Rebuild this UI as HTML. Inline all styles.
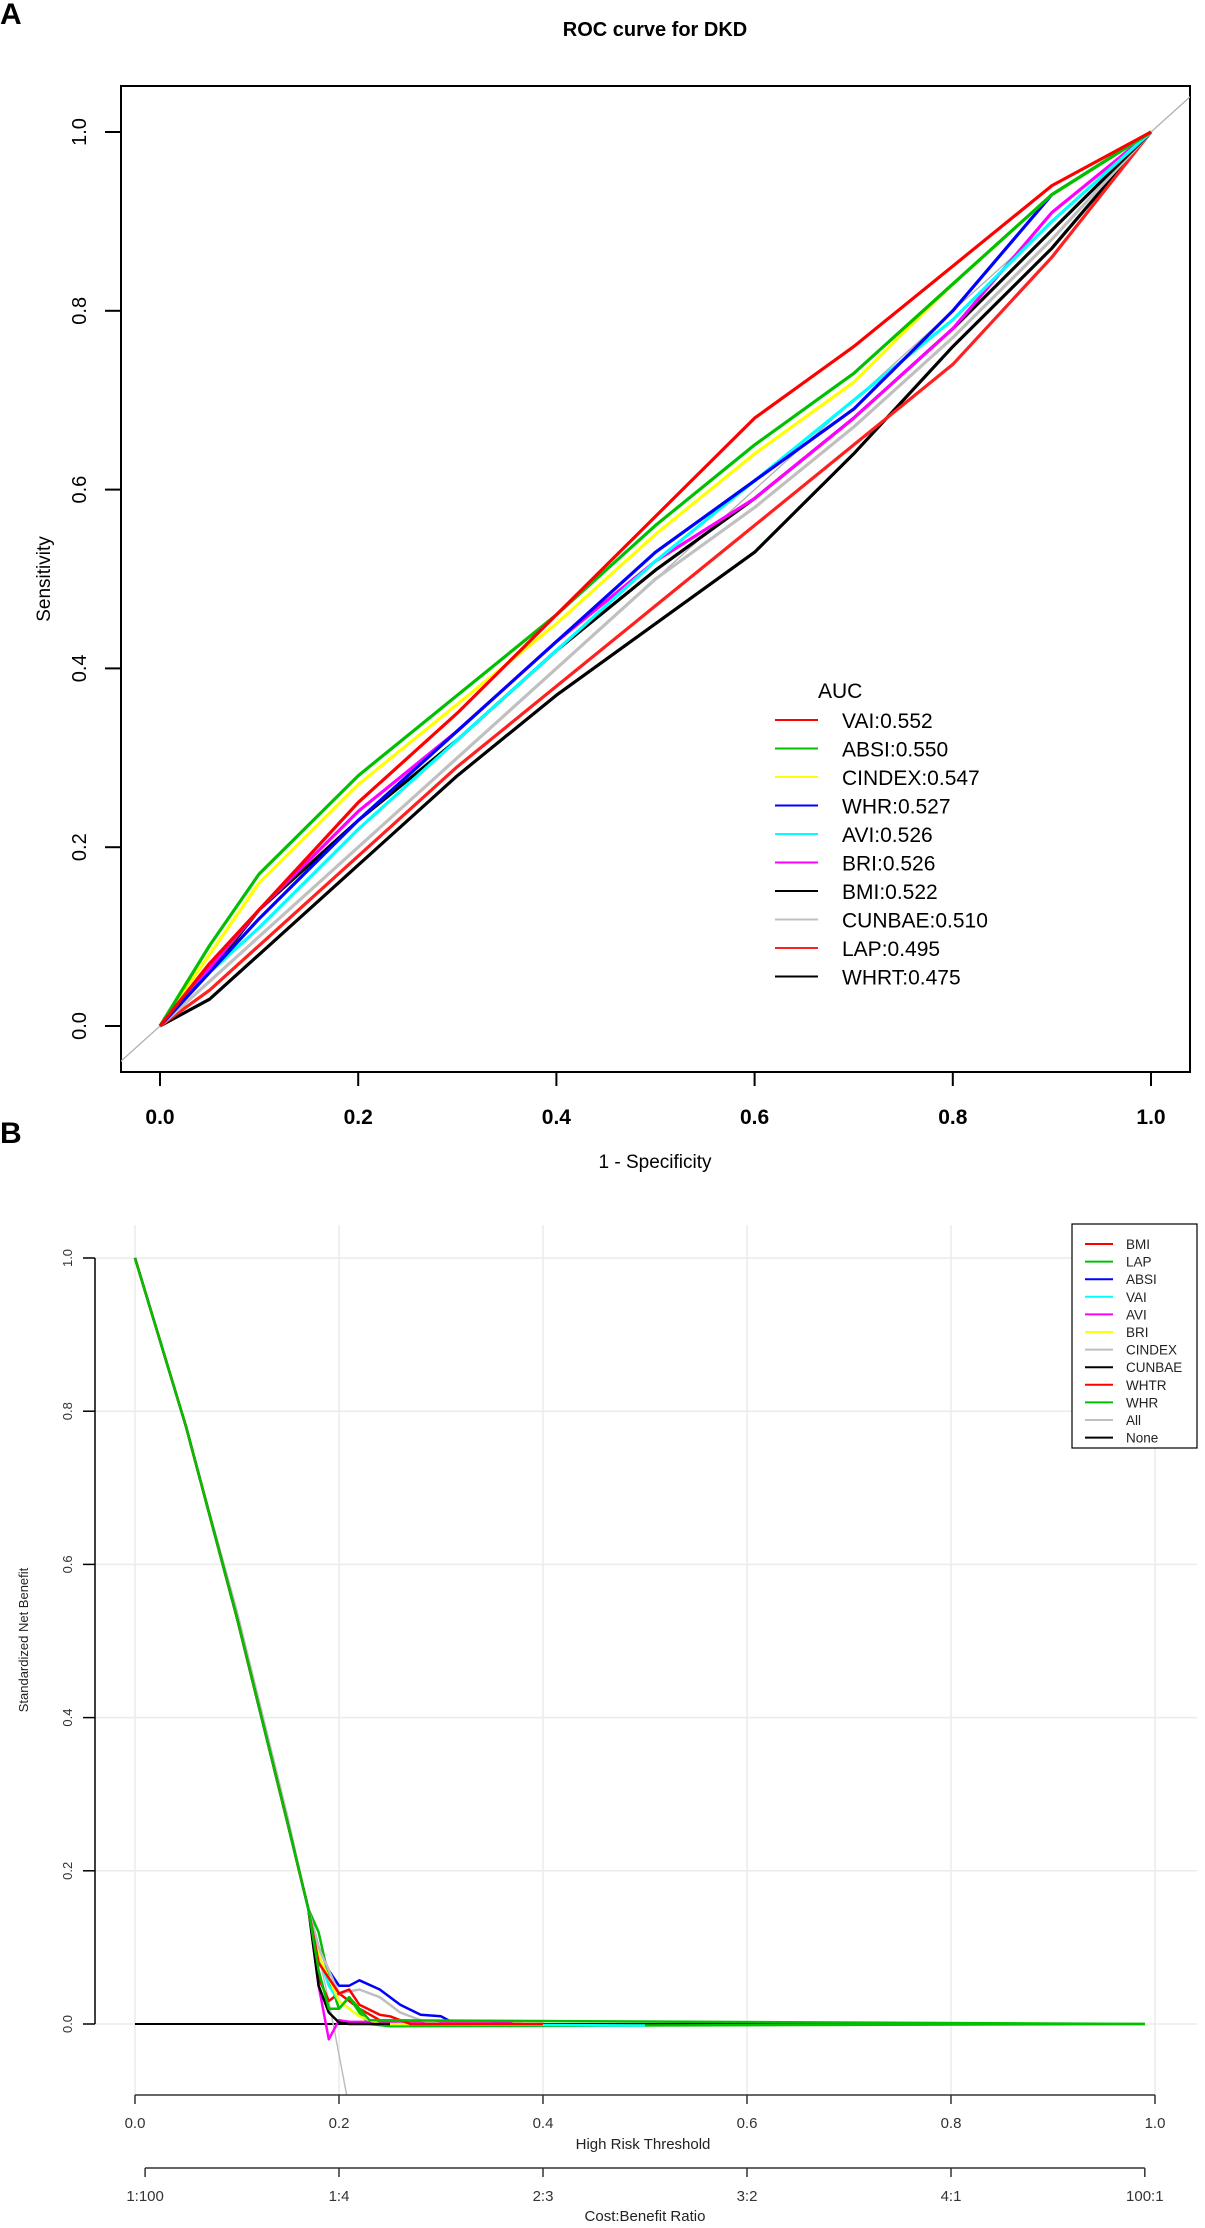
<!DOCTYPE html>
<html><head><meta charset="utf-8">
<style>
html,body{margin:0;padding:0;background:#fff;}
svg{display:block;font-family:"Liberation Sans",Arial,sans-serif;}
</style></head>
<body>
<svg id="fig" width="1205" height="2228" viewBox="0 0 1205 2228" xmlns="http://www.w3.org/2000/svg">
<defs>
<clipPath id="clipA"><rect x="121" y="86" width="1069" height="986"/></clipPath>
<clipPath id="clipB"><rect x="95" y="1220" width="1105" height="875"/></clipPath>
</defs>
<text x="0" y="24" font-size="30" font-weight="bold">A</text>
<text x="655" y="36" font-size="20" font-weight="bold" text-anchor="middle">ROC curve for DKD</text>
<rect x="121" y="86" width="1069" height="986" fill="none" stroke="#000" stroke-width="2"/>
<g id="rocAxes"></g>
<g id="rocLines" clip-path="url(#clipA)"></g>
<g id="rocLegend"></g>
<text transform="translate(50,579) rotate(-90)" font-size="19" text-anchor="middle">Sensitivity</text>
<text x="655" y="1168" font-size="19" text-anchor="middle">1 - Specificity</text>

<text x="0" y="1143" font-size="30" font-weight="bold">B</text>
<g id="dcaGrid"></g>
<g id="dcaLines" clip-path="url(#clipB)"></g>
<g id="dcaAxes"></g>
<g id="dcaLegend"></g>
<text transform="translate(28,1640) rotate(-90)" font-size="13" fill="#222" text-anchor="middle">Standardized Net Benefit</text>
<text x="643" y="2149" font-size="15" fill="#222" text-anchor="middle">High Risk Threshold</text>
<text x="645" y="2221" font-size="15" fill="#222" text-anchor="middle">Cost:Benefit Ratio</text>
</svg>
<script>
// ---------- ROC data ----------
const rocNames = ["VAI","ABSI","CINDEX","WHR","AVI","BRI","BMI","CUNBAE","LAP","WHRT"];
const rocAUC = ["0.552","0.550","0.547","0.527","0.526","0.526","0.522","0.510","0.495","0.475"];
const rocColors = ["#ff0000","#00c000","#ffff00","#0000ff","#00ffff","#ff00ff","#000000","#c0c0c0","#ff2020","#000000"];
const rocFpr = [0,0.05,0.1,0.2,0.3,0.4,0.5,0.6,0.7,0.8,0.9,1];
const rocVAI    = [0,0.07,0.13,0.25,0.35,0.46,0.57,0.68,0.76,0.85,0.94,1];
const rocABSI   = [0,0.09,0.17,0.28,0.37,0.46,0.56,0.65,0.73,0.83,0.93,1];
const rocCINDEX = [0,0.08,0.16,0.27,0.36,0.45,0.55,0.64,0.72,0.83,0.93,1];
const rocWHR    = [0,0.06,0.12,0.23,0.33,0.43,0.53,0.61,0.69,0.80,0.93,1];
const rocAVI    = [0,0.06,0.11,0.22,0.32,0.42,0.52,0.61,0.70,0.79,0.90,1];
const rocBRI    = [0,0.065,0.13,0.24,0.33,0.43,0.52,0.59,0.68,0.78,0.91,1];
const rocBMI    = [0,0.06,0.13,0.23,0.32,0.42,0.51,0.59,0.68,0.78,0.89,1];
const rocCUNBAE = [0,0.05,0.10,0.20,0.30,0.40,0.50,0.58,0.67,0.77,0.88,1];
const rocLAP    = [0,0.04,0.09,0.19,0.29,0.38,0.47,0.56,0.65,0.74,0.86,1];
const rocWHRT   = [0,0.03,0.08,0.18,0.28,0.37,0.45,0.53,0.64,0.76,0.87,1];
const rocTicks = [0,0.2,0.4,0.6,0.8,1.0];
const rocTickLabels = ["0.0","0.2","0.4","0.6","0.8","1.0"];

// ---------- DCA data ----------
const dcaNames = ["BMI","LAP","ABSI","VAI","AVI","BRI","CINDEX","CUNBAE","WHTR","WHR","All","None"];
const dcaColors = ["#ff0000","#00c000","#0000ff","#00ffff","#ff00ff","#ffff00","#bebebe","#000000","#ff0000","#00c000","#bebebe","#000000"];
const dcaHead = [0,0.05,0.1,0.15,0.17];
const dcaHeadVal = [1.0,0.78,0.53,0.26,0.15];
const dcaT_BMI = [0.18,0.19,0.2,0.21,0.22,0.24,0.27,0.38];
const dcaV_BMI = [0.06,0.03,0.04,0.03,0.02,0.005,0,0];
const dcaT_LAP = [0.18,0.19,0.2,0.21,0.22,0.23,0.25,0.99];
const dcaV_LAP = [0.12,0.06,0.02,0.035,0.015,0,-0.003,0];
const dcaT_ABSI = [0.18,0.19,0.2,0.21,0.22,0.24,0.26,0.28,0.3,0.31,0.33];
const dcaV_ABSI = [0.1,0.07,0.05,0.05,0.057,0.045,0.025,0.012,0.01,0.003,0];
const dcaT_VAI = [0.18,0.19,0.2,0.22,0.24,0.5];
const dcaV_VAI = [0.09,0.05,0.03,0.01,0,-0.002];
const dcaT_AVI = [0.18,0.19,0.2,0.21,0.37];
const dcaV_AVI = [0.05,-0.02,0.005,0.003,0.002];
const dcaT_BRI = [0.18,0.2,0.22,0.24,0.35];
const dcaV_BRI = [0.09,0.03,0.01,0,0];
const dcaT_CINDEX = [0.18,0.2,0.22,0.24,0.26,0.28,0.3];
const dcaV_CINDEX = [0.1,0.04,0.045,0.035,0.015,0.005,0];
const dcaT_CUNBAE = [0.18,0.19,0.2,0.21,0.25];
const dcaV_CUNBAE = [0.05,0.015,0.002,0,0];
const dcaT_WHTR = [0.18,0.2,0.21,0.22,0.24,0.25,0.27,0.4];
const dcaV_WHTR = [0.08,0.04,0.045,0.025,0.012,0.01,0,0];
const dcaT_WHR = [0.18,0.19,0.2,0.21,0.23,0.99];
const dcaV_WHR = [0.07,0.02,0.02,0.035,0.005,0];
const dcaT_All = [0,0.05,0.1,0.15,0.19,0.21];
const dcaV_All = [1.0,0.78,0.54,0.27,0.03,-0.11];
const dcaT_None = [0,0.99];
const dcaV_None = [0,0];
const dcaYTicks = [0,0.2,0.4,0.6,0.8,1.0];
const dcaYLabels = ["0.0","0.2","0.4","0.6","0.8","1.0"];
const dcaXTicks = [0,0.2,0.4,0.6,0.8,1.0];
const dcaXLabels = ["0.0","0.2","0.4","0.6","0.8","1.0"];
const cbTicks = [0.0099,0.2,0.4,0.6,0.8,0.99];
const cbLabels = ["1:100","1:4","2:3","3:2","4:1","100:1"];

const NS="http://www.w3.org/2000/svg";
function mk(tag,attrs,parent){const e=document.createElementNS(NS,tag);for(const k in attrs)e.setAttribute(k,attrs[k]);parent.appendChild(e);return e;}

// ROC scales
const ax=v=>160+991*v, ay=v=>1026-894*v;
const rocAx=document.getElementById('rocAxes');
rocTicks.forEach((t,i)=>{
  let l=mk('line',{x1:ax(t),x2:ax(t),y1:1072,y2:1086,stroke:'#000','stroke-width':2},rocAx);
  
  
  let tx=mk('text',{x:ax(t),y:1124,'font-size':21,'font-weight':'bold','text-anchor':'middle'},rocAx);
  tx.textContent=rocTickLabels[i];
  
  
  let l2=mk('line',{x1:105,x2:121,y1:ay(t),y2:ay(t),stroke:'#000','stroke-width':2},rocAx);
  
  
  let ty=mk('text',{transform:`translate(86,${ay(t)}) rotate(-90)`,'font-size':20,'text-anchor':'middle'},rocAx);
  ty.textContent=rocTickLabels[i];
  
  
});
const rl=document.getElementById('rocLines');
let dg=mk('line',{x1:ax(-0.1),y1:ay(-0.1),x2:ax(1.1),y2:ay(1.1),stroke:'#b0b0b0','stroke-width':1.3},rl);


const rocSeries=[rocVAI,rocABSI,rocCINDEX,rocWHR,rocAVI,rocBRI,rocBMI,rocCUNBAE,rocLAP,rocWHRT];
for(let s=rocSeries.length-1;s>=0;s--){
  const pts=rocFpr.map((f,i)=>ax(f).toFixed(1)+','+ay(rocSeries[s][i]).toFixed(1)).join(' ');
  let p=mk('polyline',{points:pts,fill:'none',stroke:rocColors[s],'stroke-width':3.2,'stroke-linejoin':'round'},rl);
  
  
}
const rlg=document.getElementById('rocLegend');
let ah=mk('text',{x:818,y:698,'font-size':21},rlg);ah.textContent='AUC';


rocNames.forEach((n,i)=>{
  const y=720+i*28.5;
  let g=mk('g',{},rlg);
  
  
  mk('line',{x1:775,x2:818,y1:y,y2:y,stroke:rocColors[i],'stroke-width':2},g);
  let t=mk('text',{x:842,y:y+8,'font-size':21},g);t.textContent=n+':'+rocAUC[i];
});

// DCA scales
const bx=v=>135+1020*v, by=v=>2024-766*v;
const gr=document.getElementById('dcaGrid');
dcaXTicks.forEach(t=>{let l=mk('line',{x1:bx(t),x2:bx(t),y1:1225,y2:2095,stroke:'#ebebeb','stroke-width':1.5},gr);
  
  });
dcaYTicks.forEach(t=>{let l=mk('line',{x1:95,x2:1197,y1:by(t),y2:by(t),stroke:'#ebebeb','stroke-width':1.5},gr);
  
  });
const dl=document.getElementById('dcaLines');
const dcaT=[dcaT_BMI,dcaT_LAP,dcaT_ABSI,dcaT_VAI,dcaT_AVI,dcaT_BRI,dcaT_CINDEX,dcaT_CUNBAE,dcaT_WHTR,dcaT_WHR];
const dcaV=[dcaV_BMI,dcaV_LAP,dcaV_ABSI,dcaV_VAI,dcaV_AVI,dcaV_BRI,dcaV_CINDEX,dcaV_CUNBAE,dcaV_WHTR,dcaV_WHR];
let nl=mk('polyline',{points:dcaT_None.map((t,i)=>bx(t)+','+by(dcaV_None[i])).join(' '),fill:'none',stroke:'#000','stroke-width':2},dl);


let al=mk('polyline',{points:dcaT_All.map((t,i)=>bx(t)+','+by(dcaV_All[i])).join(' '),fill:'none',stroke:'#bebebe','stroke-width':1.5},dl);


for(let s=0;s<dcaT.length;s++){
  const ts=dcaHead.concat(dcaT[s]), vs=dcaHeadVal.concat(dcaV[s]);
  let p=mk('polyline',{points:ts.map((t,i)=>bx(t).toFixed(1)+','+by(vs[i]).toFixed(1)).join(' '),fill:'none',stroke:dcaColors[s],'stroke-width':2.5,'stroke-linejoin':'round'},dl);
  
  
}
const da=document.getElementById('dcaAxes');
let ya=mk('line',{x1:95,x2:95,y1:by(1),y2:by(0),stroke:'#000','stroke-width':1.5},da);


dcaYTicks.forEach((t,i)=>{
  mk('line',{x1:83,x2:95,y1:by(t),y2:by(t),stroke:'#000','stroke-width':1.5},da);
  let tx=mk('text',{transform:`translate(72,${by(t)}) rotate(-90)`,'font-size':13,fill:'#333','text-anchor':'middle'},da);
  tx.textContent=dcaYLabels[i];
  
  
});
let xa=mk('line',{x1:bx(0),x2:bx(1),y1:2095,y2:2095,stroke:'#333','stroke-width':1.5},da);


dcaXTicks.forEach((t,i)=>{
  mk('line',{x1:bx(t),x2:bx(t),y1:2095,y2:2104,stroke:'#333','stroke-width':1.5},da);
  let tx=mk('text',{x:bx(t),y:2128,'font-size':15,fill:'#333','text-anchor':'middle'},da);
  tx.textContent=dcaXLabels[i];
  
  
});
let ca=mk('line',{x1:bx(cbTicks[0]),x2:bx(cbTicks[cbTicks.length-1]),y1:2168,y2:2168,stroke:'#333','stroke-width':1.5},da);


cbTicks.forEach((t,i)=>{
  mk('line',{x1:bx(t),x2:bx(t),y1:2168,y2:2177,stroke:'#333','stroke-width':1.5},da);
  let tx=mk('text',{x:bx(t),y:2201,'font-size':15,fill:'#333','text-anchor':'middle'},da);
  tx.textContent=cbLabels[i];
  
  
});
const dlg=document.getElementById('dcaLegend');
let box=mk('rect',{x:1072,y:1224,width:125,height:224,fill:'#fff',stroke:'#000','stroke-width':1.2},dlg);


dcaNames.forEach((n,i)=>{
  const y=1244+i*17.6;
  let g=mk('g',{},dlg);
  
  
  mk('line',{x1:1085,x2:1113,y1:y,y2:y,stroke:dcaColors[i],'stroke-width':2},g);
  let t=mk('text',{x:1126,y:y+5,'font-size':13.5,fill:'#222'},g);t.textContent=n;
});
</script>
</body></html>
